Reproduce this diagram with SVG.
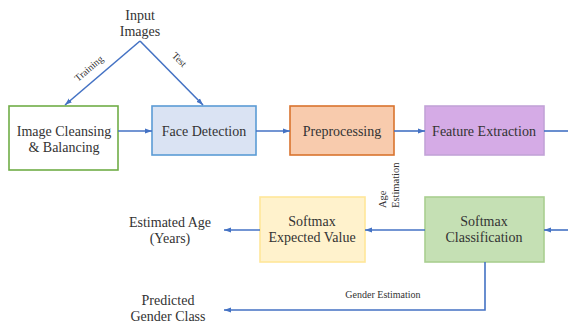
<svg xmlns="http://www.w3.org/2000/svg" width="568" height="325" viewBox="0 0 568 325">
<defs>
<marker id="ah" markerWidth="8" markerHeight="6" refX="7" refY="3" orient="auto" markerUnits="userSpaceOnUse">
<path d="M0,0.5 L7,3 L0,5.5 z" fill="#4472c4"/>
</marker>
<style>
.t{font-family:"Liberation Serif","DejaVu Serif",serif;fill:#333;}
.lbl{font-size:14px;text-anchor:middle;}
.sm{font-size:10px;text-anchor:middle;}
.c{fill:none;stroke:#4472c4;stroke-width:1.6;}
.box{stroke-width:1.6;}
</style>
</defs>
<rect width="568" height="325" fill="#fff"/>
<g id="input">
<text class="t lbl" x="140" y="20">Input</text>
<text class="t lbl" x="140" y="36">Images</text>
</g>
<g id="cleansing">
<rect class="box" x="9" y="106" width="109" height="64" fill="#fff" stroke="#70ad47"/>
<text class="t lbl" x="64" y="136">Image Cleansing</text>
<text class="t lbl" x="64" y="152">&amp; Balancing</text>
</g>
<g id="face">
<rect class="box" x="152" y="106" width="104" height="49" fill="#dae3f3" stroke="#5b9bd5"/>
<text class="t lbl" x="204" y="136">Face Detection</text>
</g>
<g id="prep">
<rect class="box" x="290" y="106" width="104" height="49" fill="#f8cbad" stroke="#d9732e"/>
<text class="t lbl" x="342" y="136">Preprocessing</text>
</g>
<g id="feature">
<rect class="box" x="425" y="106" width="119" height="49" fill="#d5abe6" stroke="#c2a3d8"/>
<text class="t lbl" x="484" y="136">Feature Extraction</text>
</g>
<g id="classif">
<rect class="box" x="425" y="197" width="119" height="65" fill="#c5e0b4" stroke="#a9cf90"/>
<text class="t lbl" x="484" y="226">Softmax</text>
<text class="t lbl" x="484" y="242">Classification</text>
</g>
<g id="expected">
<rect class="box" x="260" y="197" width="105" height="65" fill="#fff2cc" stroke="#ffe699"/>
<text class="t lbl" x="312" y="226">Softmax</text>
<text class="t lbl" x="312" y="242">Expected  Value</text>
</g>
<g id="age">
<text class="t lbl" x="170" y="227">Estimated Age</text>
<text class="t lbl" x="170" y="243">(Years)</text>
</g>
<g id="gender">
<text class="t lbl" x="168" y="305">Predicted</text>
<text class="t lbl" x="168" y="321">Gender Class</text>
</g>
<g id="connectors">
<path class="c" d="M140,41 L65,105" marker-end="url(#ah)"/>
<path class="c" d="M140,41 L203,105" marker-end="url(#ah)"/>
<path class="c" d="M118,131 L152,131" marker-end="url(#ah)"/>
<path class="c" d="M256,131 L290,131" marker-end="url(#ah)"/>
<path class="c" d="M394,131 L425,131" marker-end="url(#ah)"/>
<path class="c" d="M544,131 L568,131"/>
<path class="c" d="M568,230 L544,230" marker-end="url(#ah)"/>
<path class="c" d="M425,230 L365,230" marker-end="url(#ah)"/>
<path class="c" d="M260,230 L224,230" marker-end="url(#ah)"/>
<path class="c" d="M485,262 L485,310 L224,310" marker-end="url(#ah)"/>
<text class="t sm" transform="translate(91,71) rotate(-40.5)">Training</text>
<text class="t sm" transform="translate(177,62) rotate(45)">Test</text>
<text class="t" font-size="10.5" transform="translate(386,208) rotate(-90)">Age</text>
<text class="t" font-size="10.5" transform="translate(399,208) rotate(-90)">Estimation</text>
<text class="t" font-size="10" text-anchor="middle" x="383" y="298">Gender Estimation</text>
</g>
</svg>
